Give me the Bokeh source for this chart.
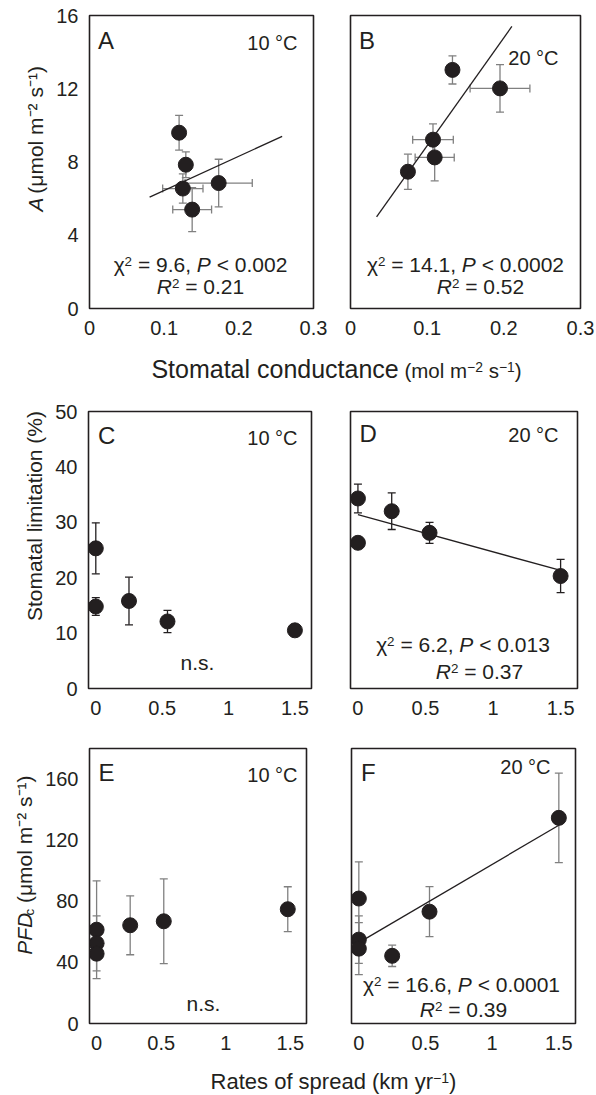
import math
from bokeh.plotting import figure
from bokeh.models import Range1d, FixedTicker, ColumnDataSource, Whisker, TeeHead, Label
from bokeh.layouts import column, row
from bokeh.embed import file_html
from bokeh.resources import INLINE

# ---------------- data ----------------
# Panel A, 10 °C: stomatal conductance vs net assimilation A
a_gs = [0.120, 0.129, 0.125, 0.173, 0.1375]
a_gs_err = [0.004, 0.006, 0.027, 0.045, 0.026]
a_A = [9.6, 7.85, 6.55, 6.85, 5.4]
a_A_err = [0.95, 0.7, 0.8, 1.3, 1.2]
a_fit_x = [0.0805, 0.258]
a_fit_y = [6.08, 9.4]

# Panel B, 20 °C
b_gs = [0.133, 0.195, 0.1076, 0.1098, 0.0749]
b_gs_err = [0.005, 0.039, 0.0265, 0.0255, 0.005]
b_A = [13.03, 12.02, 9.22, 8.25, 7.47]
b_A_err = [0.77, 1.3, 0.86, 1.28, 0.96]
b_fit_x = [0.034, 0.2105]
b_fit_y = [5.0, 15.4]

# Panel C, 10 °C: rate of spread vs stomatal limitation
c_rate = [0, 0, 0.25, 0.54, 1.5]
c_sl = [25.3, 14.8, 15.8, 12.1, 10.5]
c_sl_err = [4.6, 1.6, 4.3, 2.0, 0.5]

# Panel D, 20 °C
d_rate = [0, 0, 0.25, 0.53, 1.5]
d_sl = [34.3, 26.3, 32.0, 28.1, 20.3]
d_sl_err = [2.6, 0.5, 3.3, 1.9, 3.0]
d_fit_x = [0, 1.5]
d_fit_y = [31.4, 21.3]

# Panel E, 10 °C: rate of spread vs PFDc
e_rate = [0, 0, 0, 0.26, 0.52, 1.48]
e_pfd = [61.4, 52.5, 45.7, 64.3, 66.9, 74.8]
e_pfd_err = [32, 18, 4, 19.3, 27.7, 14.7]

# Panel F, 20 °C
f_rate = [0, 0, 0, 0.25, 0.53, 1.5]
f_pfd = [81.8, 54.9, 49.0, 44.3, 73.2, 134.6]
f_pfd_err = [24, 15.5, 17, 7, 16.4, 29.3]
f_fit_x = [0, 1.5]
f_fit_y = [52.9, 129.8]

# ticks and labels
gs_ticks = [0, 0.1, 0.2, 0.3]
gs_labels = ["0", "0.1", "0.2", "0.3"]
A_ticks = [0, 4, 8, 12, 16]
A_labels = ["0", "4", "8", "12", "16"]
rate_ticks = [0, 0.5, 1, 1.5]
rate_labels = ["0", "0.5", "1", "1.5"]
sl_ticks = [0, 10, 20, 30, 40, 50]
sl_labels = ["0", "10", "20", "30", "40", "50"]
pfd_ticks = [0, 40, 80, 120, 160]
pfd_labels = ["0", "40", "80", "120", "160"]

panel_letters = ["A", "B", "C", "D", "E", "F"]
temps = ["10 °C", "20 °C", "10 °C", "20 °C", "10 °C", "20 °C"]

# ---------------- styling / layout ----------------
FONT = "Liberation Sans"
INK = "#231f20"
GREY = "#808080"
TOTAL_W = 596
R1, T1H, R2, R3, T2H = 345, 48, 345, 322, 35
Y1, Y2, Y3 = 0, R1 + T1H, R1 + T1H + R2
Y4 = Y3 + R3

GEOM = {
    "YA": dict(ox=0, oy=Y1, w=48, h=R1, bl=0, br=0, bt=0, bb=0),
    "A": dict(ox=48, oy=Y1, w=282, h=R1, bl=41, br=17, bt=15, bb=37),
    "B": dict(ox=330, oy=Y1, w=266, h=R1, bl=20, br=16, bt=15, bb=37),
    "T1": dict(ox=0, oy=R1, w=TOTAL_W, h=T1H, bl=0, br=0, bt=0, bb=0),
    "YC": dict(ox=0, oy=Y2, w=50, h=R2, bl=0, br=0, bt=0, bb=0),
    "C": dict(ox=50, oy=Y2, w=280, h=R2, bl=38, br=19, bt=18, bb=50),
    "D": dict(ox=330, oy=Y2, w=266, h=R2, bl=20, br=19, bt=18, bb=50),
    "YE": dict(ox=0, oy=Y3, w=40, h=R3, bl=0, br=0, bt=0, bb=0),
    "E": dict(ox=40, oy=Y3, w=290, h=R3, bl=49, br=24, bt=10, bb=37),
    "F": dict(ox=330, oy=Y3, w=266, h=R3, bl=21, br=21, bt=10, bb=37),
    "T2": dict(ox=0, oy=Y4, w=TOTAL_W, h=T2H, bl=0, br=0, bt=0, bb=0),
}

# Arial / Liberation Sans advance widths (per 1000 em)
CW = {' ': 278, '\u00a0': 278, '.': 278, ',': 278, '=': 584, '<': 584, '(': 333, ')': 333,
      '%': 889, '\u2212': 584, '°': 400, 'A': 667, 'B': 667, 'C': 722, 'D': 722, 'E': 667,
      'F': 611, 'P': 667, 'R': 722, 'S': 667, 'a': 556, 'c': 500, 'd': 556, 'e': 556,
      'f': 278, 'i': 222, 'k': 500, 'l': 222, 'm': 833, 'n': 556, 'o': 556, 'p': 556,
      'r': 333, 's': 500, 't': 278, 'u': 556, 'y': 500, 'μ': 576, 'χ': 520,
      '\u207b': 333, '\u00b2': 333, '\u00b9': 333}


def tw(s, size):
    return sum(CW.get(ch, 556) for ch in s) * size / 1000.0


def to_data(p, g, rx, ry):
    fx = rx - g["ox"] - g["bl"]
    fy = ry - g["oy"] - g["bt"]
    fw = g["w"] - g["bl"] - g["br"]
    fh = g["h"] - g["bt"] - g["bb"]
    x0, x1 = p.x_range.start, p.x_range.end
    y0, y1 = p.y_range.start, p.y_range.end
    return x0 + fx / fw * (x1 - x0), y1 - fy / fh * (y1 - y0)


def rich(p, g, pieces, cx, cy, size, align="center", rotate=False, sup_ratio=0.64):
    """Place a run of text pieces (normal / italic / superscript / subscript).
    Each piece: (text, kind[, nominal size[, gap before in px]])."""
    items = []
    for pc in pieces:
        txt, kind = pc[0].replace(" ", "\u00a0"), pc[1]
        pbase = pc[2] if len(pc) > 2 else size
        gap = pc[3] if len(pc) > 3 else 0.0
        s = pbase * sup_ratio if kind in ("sup", "sub") else pbase
        items.append((txt, kind, pbase, s, tw(txt, s), gap))
    total = sum(it[4] + it[5] for it in items)
    along = {"center": -total / 2, "left": 0.0, "right": -total}[align]
    main_base = (cx if rotate else cy) + 0.358 * size
    for txt, kind, pbase, s, wdt, gap in items:
        along += gap
        if kind == "sup":
            pb = main_base - 0.28 * pbase
        elif kind == "sub":
            pb = main_base + 0.15 * pbase
        else:
            pb = main_base
        perp = pb - 0.358 * s
        style = "italic" if kind == "i" else "normal"
        if rotate:
            x, y = to_data(p, g, perp, cy - along)
            ang = math.pi / 2
        else:
            x, y = to_data(p, g, cx + along, perp)
            ang = 0
        p.add_layout(Label(x=x, y=y, text=txt, text_font=FONT, text_font_size=f"{s:.1f}px",
                           text_font_style=style, text_color=INK, text_align="left",
                           text_baseline="alphabetic", angle=ang))
        along += wdt


def panel(key, xr, yr, xticks, xlabels, yticks=None, ylabels=None):
    g = GEOM[key]
    p = figure(width=g["w"], height=g["h"], x_range=Range1d(*xr), y_range=Range1d(*yr),
               min_border_left=g["bl"], min_border_right=g["br"],
               min_border_top=g["bt"], min_border_bottom=g["bb"],
               toolbar_location=None, output_backend="svg", title=None,
               x_axis_location="below", y_axis_location="left" if yticks else None)
    p.grid.visible = False
    p.outline_line_color = INK
    p.outline_line_width = 1.6
    p.background_fill_color = "white"
    p.border_fill_color = "white"
    axes = [(p.xaxis[0], xticks, xlabels, 12)]
    if yticks:
        axes.append((p.yaxis[0], yticks, ylabels, 11))
    for ax, t, lab, so in axes:
        ax.ticker = FixedTicker(ticks=t)
        ax.major_label_overrides = dict(zip(t, lab))
        ax.axis_line_color = None
        ax.major_tick_line_color = None
        ax.minor_tick_line_color = None
        ax.major_tick_out = 0
        ax.major_tick_in = 0
        ax.major_label_standoff = so
        ax.major_label_text_font = FONT
        ax.major_label_text_font_size = "20px"
        ax.major_label_text_color = INK
    return p


def blank(key):
    g = GEOM[key]
    t = figure(width=g["w"], height=g["h"], x_range=Range1d(0, g["w"]), y_range=Range1d(0, g["h"]),
               min_border_left=0, min_border_right=0, min_border_top=0, min_border_bottom=0,
               toolbar_location=None, output_backend="svg", title=None,
               x_axis_location=None, y_axis_location=None)
    t.grid.visible = False
    t.outline_line_color = None
    t.background_fill_color = "white"
    t.border_fill_color = "white"
    return t


def errbars(p, x, y, yerr, color, xerr=None):
    src = ColumnDataSource(dict(x=x, y=y,
                                yl=[v - e for v, e in zip(y, yerr)],
                                yu=[v + e for v, e in zip(y, yerr)]))
    dims = [("x", "yl", "yu", "height")]
    if xerr is not None:
        src.data["xl"] = [v - e for v, e in zip(x, xerr)]
        src.data["xu"] = [v + e for v, e in zip(x, xerr)]
        dims.append(("y", "xl", "xu", "width"))
    for base, lo, up, dim in dims:
        p.add_layout(Whisker(source=src, base=base, lower=lo, upper=up, dimension=dim,
                             line_color=color, line_width=1.3, level="underlay",
                             upper_head=TeeHead(size=8, line_color=color, line_width=1.3),
                             lower_head=TeeHead(size=8, line_color=color, line_width=1.3)))
    p.scatter("x", "y", source=src, size=15, fill_color=INK, line_color=INK)


RATE_RANGE = (-0.055, 1.625)

pA = panel("A", (0, 0.3), (0, 16), gs_ticks, gs_labels, A_ticks, A_labels)
errbars(pA, a_gs, a_A, a_A_err, GREY, a_gs_err)
pA.line(a_fit_x, a_fit_y, line_color=INK, line_width=1.3)

pB = panel("B", (0, 0.3), (0, 16), gs_ticks, gs_labels)
errbars(pB, b_gs, b_A, b_A_err, GREY, b_gs_err)
pB.line(b_fit_x, b_fit_y, line_color=INK, line_width=1.3)

pC = panel("C", RATE_RANGE, (0, 50), rate_ticks, rate_labels, sl_ticks, sl_labels)
errbars(pC, c_rate, c_sl, c_sl_err, INK)

pD = panel("D", RATE_RANGE, (0, 50), rate_ticks, rate_labels)
errbars(pD, d_rate, d_sl, d_sl_err, INK)
pD.line(d_fit_x, d_fit_y, line_color=INK, line_width=1.3)

pE = panel("E", RATE_RANGE, (0, 180), rate_ticks, rate_labels, pfd_ticks, pfd_labels)
errbars(pE, e_rate, e_pfd, e_pfd_err, GREY)

pF = panel("F", RATE_RANGE, (0, 180), rate_ticks, rate_labels)
errbars(pF, f_rate, f_pfd, f_pfd_err, GREY)
pF.line(f_fit_x, f_fit_y, line_color=INK, line_width=1.3)

# ---- in-panel texts (positions in page pixels) ----
G = GEOM
rich(pA, G["A"], [(panel_letters[0], "n")], 97.5, 40, 24, "left")
rich(pA, G["A"], [(temps[0], "n")], 297, 42, 20, "right")
rich(pA, G["A"], [("χ", "n"), ("2", "sup"), (" = 9.6, ", "n"), ("P", "i"), (" < 0.002", "n")], 200, 264, 21)
rich(pA, G["A"], [("R", "i"), ("2", "sup"), (" = 0.21", "n")], 200, 286, 21)

rich(pB, G["B"], [(panel_letters[1], "n")], 358.5, 40, 24, "left")
rich(pB, G["B"], [(temps[1], "n")], 558, 57, 20, "right")
rich(pB, G["B"], [("χ", "n"), ("2", "sup"), (" = 14.1, ", "n"), ("P", "i"), (" < 0.0002", "n")], 465, 264, 21)
rich(pB, G["B"], [("R", "i"), ("2", "sup"), (" = 0.52", "n")], 480, 286, 21)

rich(pC, G["C"], [(panel_letters[2], "n")], 97.5, 435, 24, "left")
rich(pC, G["C"], [(temps[2], "n")], 297, 437, 20, "right")
rich(pC, G["C"], [("n.s.", "n")], 197, 662, 21)

rich(pD, G["D"], [(panel_letters[3], "n")], 359, 433, 24, "left")
rich(pD, G["D"], [(temps[3], "n")], 558, 434, 20, "right")
rich(pD, G["D"], [("χ", "n"), ("2", "sup"), (" = 6.2, ", "n"), ("P", "i"), (" < 0.013", "n")], 462.5, 644, 21)
rich(pD, G["D"], [("R", "i"), ("2", "sup"), (" = 0.37", "n")], 479, 671, 21)

rich(pE, G["E"], [(panel_letters[4], "n")], 98, 772, 24, "left")
rich(pE, G["E"], [(temps[4], "n")], 297, 774, 20, "right")
rich(pE, G["E"], [("n.s.", "n")], 203, 1003, 21)

rich(pF, G["F"], [(panel_letters[5], "n")], 360.5, 772, 24, "left")
rich(pF, G["F"], [(temps[5], "n")], 550, 766, 20, "right")
rich(pF, G["F"], [("χ", "n"), ("2", "sup"), (" = 16.6, ", "n"), ("P", "i"), (" < 0.0001", "n")], 461, 984, 21)
rich(pF, G["F"], [("R", "i"), ("2", "sup"), (" = 0.39", "n")], 463, 1009, 21)

# ---- y axis titles (rotated, in their own narrow canvases) ----
yA = blank("YA")
rich(yA, G["YA"], [("A", "i"), (" (μmol m\u207b\u00b2 s\u207b\u00b9)", "n")], 35, 157, 21, rotate=True)
yC = blank("YC")
rich(yC, G["YC"], [("Stomatal limitation (%)", "n")], 34, 549, 21, rotate=True)
yE = blank("YE")
rich(yE, G["YE"], [("PFD", "i"), ("c", "sub", 21, 4.0), (" (μmol m\u207b\u00b2 s\u207b\u00b9)", "n", 21, 1.0)],
     23.5, 886, 21, rotate=True)

# ---- shared x axis titles ----
t1 = blank("T1")
rich(t1, G["T1"], [("Stomatal conductance", "n", 25), (" (mol m", "n", 20.5), ("\u22122", "sup", 20.5),
                   (" s", "n", 20.5), ("\u22121", "sup", 20.5), (")", "n", 20.5)], 336, 368, 25,
     sup_ratio=0.68)
t2 = blank("T2")
rich(t2, G["T2"], [("Rates of spread (km yr", "n"), ("\u22121", "sup"), (")", "n")], 333, 1081, 22)

layout = column(row(yA, pA, pB, spacing=0), t1,
                row(yC, pC, pD, spacing=0),
                row(yE, pE, pF, spacing=0), t2, spacing=0)

open("out.html", "w").write(file_html(layout, INLINE))
